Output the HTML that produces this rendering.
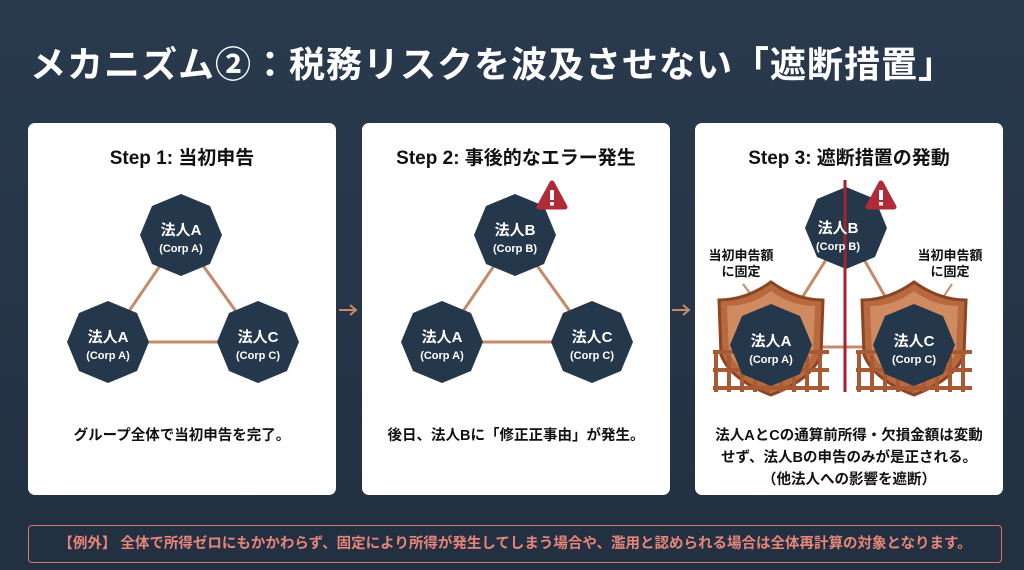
<!DOCTYPE html><html><head><meta charset="utf-8"><style>
body{margin:0;width:1024px;height:570px;overflow:hidden;background:linear-gradient(180deg,#2a3a4e,#223041);font-family:"Liberation Sans","Noto Sans CJK JP",sans-serif;position:relative}
.t{position:absolute;left:30px;top:36px;color:#fff;font-size:36px;font-weight:bold;letter-spacing:1px}
.card{position:absolute;top:123px;width:308px;height:372px;background:#fff;border-radius:7px}
.h{position:absolute;top:20px;width:100%;text-align:center;font-size:19px;font-weight:bold;color:#111}
.d{position:absolute;width:100%;text-align:center;font-size:14.5px;font-weight:bold;color:#111;line-height:22px}
svg{position:absolute;left:0;top:0}
.ex{position:absolute;left:28px;top:525px;width:972px;height:36px;border:1.5px solid #d9756a;border-radius:4px;color:#e8857a;font-size:14.5px;line-height:36px;text-align:center;font-weight:bold}
</style></head><body>
<div class="t">メカニズム②：税務リスクを波及させない「遮断措置」</div>
<div class="card" style="left:28px"><div class="h">Step 1: 当初申告</div><div class="d" style="top:302px">グループ全体で当初申告を完了。</div></div>
<div class="card" style="left:362px"><div class="h">Step 2: 事後的なエラー発生</div><div class="d" style="top:302px">後日、法人Bに「修正正事由」が発生。</div></div>
<div class="card" style="left:695px"><div class="h">Step 3: 遮断措置の発動</div><div class="d" style="top:302px">法人AとCの通算前所得・欠損金額は変動<br>せず、法人Bの申告のみが是正される。<br>（他法人への影響を遮断）</div></div>
<div class="ex">【例外】 全体で所得ゼロにもかかわらず、固定により所得が発生してしまう場合や、濫用と認められる場合は全体再計算の対象となります。</div>
<svg width="1024" height="570" font-family="Liberation Sans,Noto Sans CJK JP,sans-serif">
<defs><polygon id="o" points="0,-41 29,-29 41,0 29,29 0,41 -29,29 -41,0 -29,-29" fill="#25374b"/>
<g id="w"><polygon points="-13,-8 13,-8 0,-32" fill="#b02a37" stroke="#b02a37" stroke-width="5" stroke-linejoin="round"/><rect x="-2" y="-25" width="4" height="10" fill="#fff"/><rect x="-2" y="-13" width="4" height="3.5" fill="#fff"/></g>
<g id="s"><path d="M-52,-40 Q-25,-40 0,-58 Q25,-40 52,-40 L50,15 Q40,40 0,55 Q-40,40 -50,15Z" fill="#b8693f" stroke="#8a4524" stroke-width="3"/><path d="M-44,-34 Q-20,-34 0,-49 Q20,-34 44,-34 L42,12 Q33,33 0,46 Q-33,33 -42,12Z" fill="#d08a60"/>
<g stroke="#a85a34" stroke-width="4" fill="none"><path d="M-58,12 L58,12 M-58,30 L58,30 M-58,48 L58,48"/><path d="M-55,10 V52 M-42,15 V52 M-29,20 V52 M-16,24 V52 M-3,24 V52 M10,24 V52 M23,20 V52 M36,15 V52 M49,10 V52"/></g></g></defs>
<g stroke="#c68a68" stroke-width="3"><path d="M181,235 L108,342 L258,342 Z" fill="none"/><path d="M515,235 L442,342 L592,342 Z" fill="none"/><path d="M846,228 L771,347 L914,347 Z" fill="none"/></g>
<g stroke="#c68a68" stroke-width="2" fill="none"><path d="M339,310 H356 M350,305 L356,310 L350,315 M672,310 H689 M683,305 L689,310 L683,315"/><path d="M743,284 L752,296 M952,284 L944,296"/></g>
<use href="#o" x="181" y="235"/><use href="#o" x="108" y="342"/><use href="#o" x="258" y="342"/>
<use href="#o" x="515" y="235"/><use href="#o" x="442" y="342"/><use href="#o" x="592" y="342"/>
<use href="#w" x="552" y="215"/>
<use href="#s" x="771" y="340"/><use href="#s" x="914" y="340"/>
<use href="#o" x="846" y="228"/><use href="#o" x="771" y="345"/><use href="#o" x="914" y="345"/>
<use href="#w" x="881" y="215"/>
<line x1="845" y1="180" x2="845" y2="392" stroke="#a3222f" stroke-width="3"/>
<g fill="#fff" text-anchor="middle" font-weight="bold">
<text x="181" y="235" font-size="15">法人A</text><text x="181" y="252" font-size="11">(Corp A)</text>
<text x="108" y="342" font-size="15">法人A</text><text x="108" y="359" font-size="11">(Corp A)</text>
<text x="258" y="342" font-size="15">法人C</text><text x="258" y="359" font-size="11">(Corp C)</text>
<text x="515" y="235" font-size="15">法人B</text><text x="515" y="252" font-size="11">(Corp B)</text>
<text x="442" y="342" font-size="15">法人A</text><text x="442" y="359" font-size="11">(Corp A)</text>
<text x="592" y="342" font-size="15">法人C</text><text x="592" y="359" font-size="11">(Corp C)</text>
<text x="838" y="233" font-size="15">法人B</text><text x="838" y="250" font-size="11">(Corp B)</text>
<text x="771" y="346" font-size="15">法人A</text><text x="771" y="363" font-size="11">(Corp A)</text>
<text x="914" y="346" font-size="15">法人C</text><text x="914" y="363" font-size="11">(Corp C)</text></g>
<g fill="#111" text-anchor="middle" font-weight="bold" font-size="13"><text x="741" y="260">当初申告額</text><text x="741" y="276">に固定</text><text x="950" y="260">当初申告額</text><text x="950" y="276">に固定</text></g>
</svg>
</body></html>
